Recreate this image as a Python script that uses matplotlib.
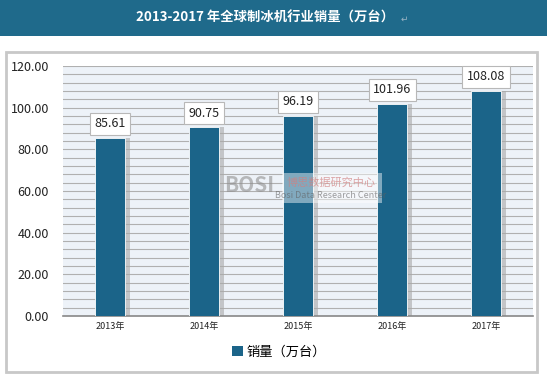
import matplotlib
matplotlib.use('Agg')
import matplotlib.pyplot as plt
from matplotlib.patches import Rectangle
from matplotlib.ticker import MultipleLocator
import numpy as np

plt.rcParams['font.family'] = ['Noto Sans CJK SC', 'DejaVu Sans']

# 数据
years = ['2013年', '2014年', '2015年', '2016年', '2017年']
sales = [85.61, 90.75, 96.19, 101.96, 108.08]
title = '2013-2017 年全球制冰机行业销量（万台）'
legend_label = '销量（万台）'

BAR = '#1b6489'
HEAD = '#1f6a8b'

fig = plt.figure(figsize=(5.47, 3.75), dpi=100)
fig.patch.set_facecolor('white')

# 标题栏
fig.patches.append(Rectangle((0, 1 - 36 / 375), 1, 36 / 375, transform=fig.transFigure,
                             facecolor=HEAD, edgecolor='none', zorder=-2))
fig.text(0.484, 1 - 18 / 375, title, color='white', fontsize=9.6, fontweight='bold',
         ha='center', va='center')
fig.text(0.733, 1 - 19 / 375, '↵', color='#9ab4c4', fontsize=6.5, ha='left', va='center')

# 外框
fig.patches.append(Rectangle((6 / 547, 3 / 375), 531 / 547, 320 / 375, transform=fig.transFigure,
                             facecolor='white', edgecolor='#c8c8c8', linewidth=2, zorder=-2))

ax = fig.add_axes([63 / 547, 59 / 375, 470 / 547, 250 / 375])
ax.set_zorder(1)
ax.set_facecolor('#edf2f8')
x = np.arange(len(years))

# 柱子阴影
ax.bar(x + 0.05, sales, width=0.32, color='#a8a8a8', alpha=0.6, zorder=2)
ax.bar(x, sales, width=0.32, color=BAR, edgecolor='white', linewidth=0.6, zorder=3)

for xi, v in zip(x, sales):
    ax.annotate(f'{v:.2f}', (xi, v), xytext=(0, 10), textcoords='offset points',
                ha='center', va='center', fontsize=9, color='#222222', zorder=5,
                bbox=dict(boxstyle='square,pad=0.35', facecolor='white', edgecolor='#b8b8b8', linewidth=0.8))

ax.set_xlim(-0.5, len(years) - 0.5)
ax.set_ylim(0, 120)
ax.yaxis.set_major_locator(MultipleLocator(20))
ax.yaxis.set_minor_locator(MultipleLocator(4))
ax.set_yticks(np.arange(0, 121, 20))
ax.set_yticklabels([f'{t:.2f}' for t in np.arange(0, 121, 20)], fontsize=9)
ax.set_xticks(x)
ax.set_xticklabels(years, fontsize=6.5)
ax.tick_params(axis='y', which='both', length=0, pad=10, colors='#222222')
ax.tick_params(axis='x', length=0, pad=4, colors='#222222')
ax.grid(axis='y', which='both', color='#b0b0b0', linewidth=0.8, zorder=1)
ax.set_axisbelow(True)
for s in ['left', 'right', 'top']:
    ax.spines[s].set_visible(False)
ax.spines['bottom'].set_color('#888888')
ax.spines['bottom'].set_linewidth(1.2)

# 水印
fig.patches.append(Rectangle((282 / 547, 172 / 375), 100 / 547, 30 / 375, transform=fig.transFigure,
                             facecolor='white', edgecolor='none', alpha=0.45, zorder=4))
fig.text(0.455, 0.505, 'BOSI', fontsize=15, fontweight='bold', color='#909090', alpha=0.6,
         ha='center', va='center', zorder=5)
fig.text(0.605, 0.512, '博思数据研究中心', fontsize=8, color='#d08080', alpha=0.7,
         ha='center', va='center', zorder=5)
fig.text(0.605, 0.478, 'Bosi Data Research Center', fontsize=6.5, color='#606060', alpha=0.6,
         ha='center', va='center', zorder=5)

# 图例
handle = Rectangle((0, 0), 1, 1, facecolor=BAR)
fig.legend([handle], [legend_label], loc='center', bbox_to_anchor=(0.51, 0.06), frameon=False,
           fontsize=9.5, handlelength=0.8, handleheight=0.8, handletextpad=0.3)

fig.savefig('out.png', dpi=100)
